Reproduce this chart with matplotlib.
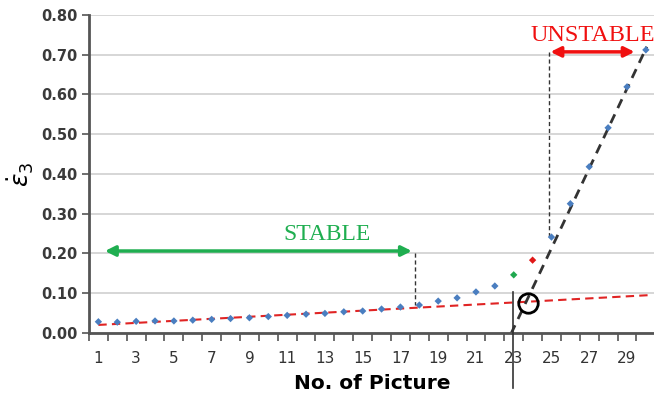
import matplotlib.pyplot as plt
import numpy as np

# picture number and strain rate
pic = list(range(1, 31))
rate = [0.028, 0.027, 0.029, 0.030, 0.030, 0.032, 0.034, 0.036, 0.038, 0.041,
        0.044, 0.047, 0.049, 0.053, 0.055, 0.060, 0.065, 0.070, 0.080, 0.088,
        0.103, 0.118, 0.146, 0.183, 0.241, 0.325, 0.418, 0.516, 0.619, 0.712]
green_pic = 23
red_pic = 24

# trend lines (end points)
trend_x = [1, 30.2]
trend_y = [0.020, 0.095]
steep_x = [22.85, 30.05]
steep_y = [-0.003, 0.72]

yticks = [0.0, 0.1, 0.2, 0.3, 0.4, 0.5, 0.6, 0.7, 0.8]
xlabels = list(range(1, 30, 2))

fig = plt.figure(figsize=(6.54, 4.03), dpi=100)
ax = fig.add_axes([0.136, 0.174, 0.866, 0.789])

ax.set_ylim(0, 0.8)
ax.set_xlim(0.5, 30.15)
ax.set_yticks(yticks)
ax.set_yticklabels(["%.2f" % v for v in yticks], fontsize=10.5, fontweight="bold", color="#3a3a3a")
ax.set_xticks(xlabels)
ax.set_xticklabels([str(v) for v in xlabels], fontsize=11, color="#333333")
ax.set_xticks(np.arange(0.5, 31, 1), minor=True)
ax.tick_params(axis="x", which="major", length=0, pad=13)
ax.tick_params(axis="x", which="minor", length=6, width=1.2, color="#555555", direction="out")
ax.tick_params(axis="y", length=5, width=1.2, color="#555555", pad=3)

ax.grid(axis="y", color="#d0d0d0", linewidth=1.2)
ax.set_axisbelow(True)
for s in ["top", "right"]:
    ax.spines[s].set_visible(False)
ax.spines["left"].set_color("#555555")
ax.spines["left"].set_linewidth(2)
ax.spines["bottom"].set_color("#555555")
ax.spines["bottom"].set_linewidth(2)

# trend lines
ax.plot(trend_x, trend_y, "--", color="#e02424", lw=1.5, dashes=(4, 2.5), zorder=2)
ax.plot(steep_x, steep_y, "--", color="#333333", lw=2, dashes=(3.5, 2.5), zorder=2, clip_on=False)

# data
colors = ["#4a7ec0"] * len(pic)
colors[green_pic - 1] = "#1fa84f"
colors[red_pic - 1] = "#e01818"
ax.scatter(pic, rate, marker="D", s=14, c=colors, zorder=3, linewidths=0)

# circle at the intersection
ax.plot([23.75], [0.076], "o", ms=14, mfc="none", mec="black", mew=2, zorder=4)
# vertical marker line
ax.plot([22.95, 22.95], [0.103, -0.138], color="#333333", lw=1.2, clip_on=False, zorder=4)

# stable arrow
ax.annotate("", xy=(1.2, 0.206), xytext=(17.75, 0.206),
            arrowprops=dict(arrowstyle="<|-|>", color="#1fae50", lw=2.5, mutation_scale=15))
ax.text(13.1, 0.222, "STABLE", color="#1fae50", fontsize=17, family="Liberation Serif", ha="center", va="bottom")
ax.plot([17.75, 17.75], [0.20, 0.07], "--", color="#333333", lw=1, dashes=(3, 2))

# unstable arrow
ax.annotate("", xy=(24.8, 0.707), xytext=(29.55, 0.707),
            arrowprops=dict(arrowstyle="<|-|>", color="#f01010", lw=2.5, mutation_scale=15))
ax.text(23.9, 0.722, "UNSTABLE", color="#f01010", fontsize=17.5, family="Liberation Serif", ha="left", va="bottom", clip_on=False)
ax.plot([24.85, 24.85], [0.707, 0.24], "--", color="#333333", lw=1, dashes=(3, 2))

ax.set_xlabel("No. of Picture", fontsize=14.5, fontweight="bold", labelpad=6)
ax.set_ylabel(r"$\dot{\varepsilon}_3$", fontsize=18, labelpad=4)

fig.savefig("out.png", dpi=100)
